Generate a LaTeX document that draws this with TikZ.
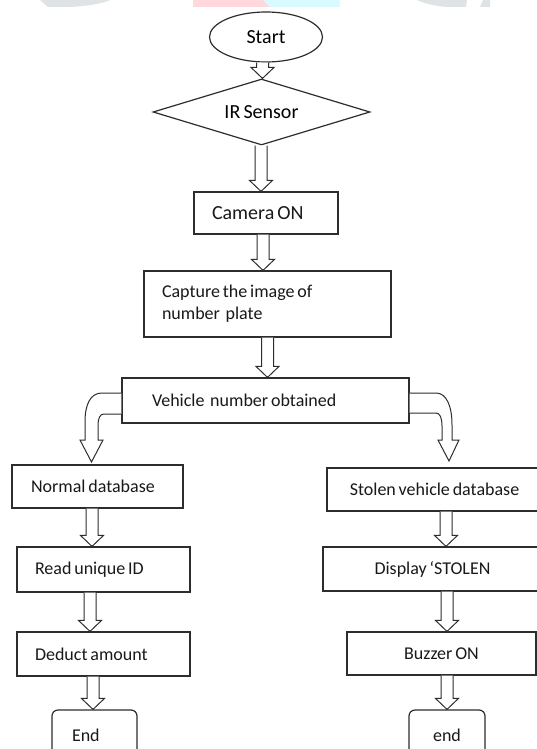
\documentclass[tikz,border=0pt]{standalone}
\usepackage{fontspec}
\setmainfont[WordSpace=0.7]{Carlito}
\usetikzlibrary{shapes.geometric,calc}
\definecolor{linec}{RGB}{45,45,45}
\definecolor{wmgray}{RGB}{222,227,230}
\definecolor{wmpink}{RGB}{255,216,221}
\definecolor{wmcyan}{RGB}{216,251,255}
\newcommand\fsA{\fontsize{18}{22}\selectfont}
\newcommand\fsB{\fontsize{20}{24}\selectfont}
\newcommand\lbox[2]{\makebox[#1][l]{#2}}
\newcommand\barrow[3]{%
  \draw[blk] let \p1=(#2), \p2=(#3) in
   (#1pt-6pt,\y1) -- (#1pt-6pt,\y2+11pt) -- (#1pt-11.5pt,\y2+11pt) -- (#1pt,\y2)
   -- (#1pt+11.5pt,\y2+11pt) -- (#1pt+6pt,\y2+11pt) -- (#1pt+6pt,\y1);}
\begin{document}
\begin{tikzpicture}[x=1pt,y=-1pt,
  box/.style={draw=linec, line width=1.2pt, fill=white, rectangle, inner sep=0pt, font=\fsA, text=black!90},
  blk/.style={draw=linec, line width=1pt, fill=white, line join=miter}]
\useasboundingbox (0,0) rectangle (537,749);
\clip (0,0) rectangle (537,749);
\fill[white] (0,0) rectangle (537,749);
% watermark remnants
\fill[wmgray] (40,0) -- (48,7) -- (70,7) .. controls (90,6) and (104,3) .. (110,0) -- cycle;
\fill[wmpink] (193,0) -- (193,7) -- (270,7) -- (263,0) -- cycle;
\fill[wmcyan] (263,0) -- (270,7) -- (340,7) -- (340,0) -- cycle;
\fill[wmgray] (417,0) .. controls (425,4) and (440,7) .. (450,7) -- (466,7) -- (467,0) -- cycle;
\fill[wmgray] (483,0) -- (480,7) -- (490,7) -- (490,0) -- cycle;

% nodes
\node[draw=linec, line width=1.2pt, fill=white, ellipse, minimum width=113pt, minimum height=50pt, inner sep=0pt, font=\fsB] (start) at (266,37) {Start};
\node[draw=linec, line width=1.2pt, fill=white, diamond, aspect=3.29, minimum width=217pt, minimum height=66pt, inner sep=0pt, font=\fsB] (ir) at (261.5,112) {\raisebox{-5pt}{IR Sensor}};
\node[box, font=\fsB, minimum width=144pt, minimum height=42pt] (cam) at (266,213) {\lbox{108pt}{Camera ON}};
\node[box, minimum width=247pt, minimum height=66pt] (cap) at (267.5,304) {\lbox{211pt}{\begin{tabular}{@{}l@{}}Capture the image of\\ number\ \ plate\end{tabular}}};
\node[box, minimum width=287pt, minimum height=45pt] (veh) at (265.5,400.5) {\lbox{227pt}{Vehicle\ \ number obtained}};

\node[box, minimum width=171pt, minimum height=43pt] (norm) at (97.5,486.5) {\lbox{133pt}{Normal database}};
\node[box, minimum width=173pt, minimum height=45pt] (read) at (103.5,569.5) {\lbox{137pt}{Read unique ID}};
\node[box, minimum width=173pt, minimum height=44pt] (ded) at (103.5,654) {\lbox{137pt}{Deduct amount}};
\node[box, rounded corners=6pt, minimum width=85pt, minimum height=50pt] (end1) at (94.5,735) {\lbox{45pt}{End}};

\node[box, minimum width=215pt, minimum height=43pt] (stol) at (434.5,489.5) {Stolen vehicle database};
\node[box, minimum width=219pt, minimum height=44pt] (disp) at (432.5,569) {Display ‘STOLEN};
\node[box, minimum width=189pt, minimum height=43pt] (buzz) at (441.5,653.5) {Buzzer ON};
\node[box, rounded corners=6pt, minimum width=76pt, minimum height=50pt] (end2) at (447,735) {end};

% block arrows
\barrow{262.5}{start.south}{ir.north}
\barrow{261}{ir.south}{cam.north}
\barrow{263}{cam.south}{cap.north}
\barrow{267.5}{cap.south}{veh.north}
\barrow{92}{norm.south}{read.north}
\barrow{90}{read.south}{ded.north}
\barrow{93}{ded.south}{end1.north}
\barrow{446}{stol.south}{disp.north}
\barrow{447}{disp.south}{buzz.north}
\barrow{447}{buzz.south}{end2.north}

% curved block arrows
\draw[blk] ($(veh.west)+(0,-7.5)$) -- (102,393) .. controls (90,393) and (85,405) .. (85,422)
  -- (85,440) -- (80,440) -- (91.5,462) -- (103,440) -- (98,440) -- (98,426)
  .. controls (98,418) and (100,414) .. (104,414) -- ($(veh.west)+(0,13.5)$);
\draw[blk] ($(veh.east)+(0,-7.5)$) -- (436,393) .. controls (446,393) and (452,405) .. (452,425)
  -- (452,440) -- (459,440) -- (449,461) -- (438,440) -- (442,440) -- (442,426)
  .. controls (442,418) and (440,413) .. (436,413) -- ($(veh.east)+(0,12.5)$);
\end{tikzpicture}
\end{document}
